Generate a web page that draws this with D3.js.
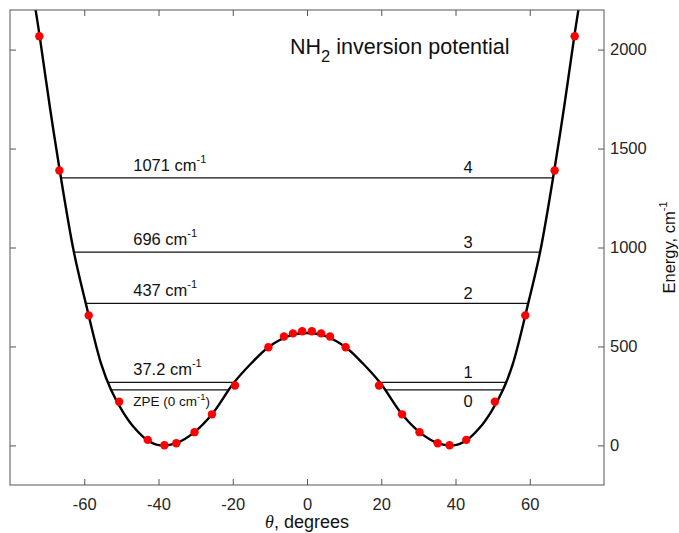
<!DOCTYPE html>
<html>
<head>
<meta charset="utf-8">
<script src="https://cdn.jsdelivr.net/npm/d3@7"></script>
<style>
  body { margin: 0; background: #fff; }
  svg { display: block; font-family: "Liberation Sans", Arial, Helvetica, sans-serif; }
</style>
</head>
<body>
<div id="chart"></div>
<script>
// axis ticks
const thetaTicks = [-60, -40, -20, 0, 20, 40, 60];
const energyTicks = [0, 500, 1000, 1500, 2000];

// ab initio points (red dots), theta in degrees, energy in cm-1
const pointTheta = [-72.1, -66.7, -58.8, -50.6, -42.9, -38.4, -35.2, -30.3, -25.6, -19.4, -10.4, -6.2, -3.8, -1.3,
  1.3, 3.8, 6.2, 10.4, 19.4, 25.6, 30.3, 35.2, 38.4, 42.9, 50.6, 58.8, 66.7, 72.1];
const pointEnergy = [2067, 1389, 657, 221, 28, 1, 11, 67, 157, 303, 496, 550, 566, 577,
  577, 566, 550, 496, 303, 157, 67, 11, 1, 28, 221, 657, 1389, 2067];

// fitted potential curve
const curveTheta = [-73.6, -72, -69.3, -66.6, -62.8, -59.6, -55.4, -52.8, -49.6, -46.5, -42.9, -39.5, -35.2, -30.3, -25.6, -19.8, -15, -10.4, -5, 0,
  5, 10.4, 15, 19.8, 25.6, 30.3, 35.2, 39.5, 42.9, 46.5, 49.6, 52.8, 55.4, 59.6, 62.8, 66.6, 69.3, 72, 73.6];
const curveEnergy = [2260, 2067, 1715, 1389, 978, 719, 409, 281, 170, 89, 25, 0, 11, 67, 157, 314, 415, 496, 552, 568,
  552, 496, 415, 314, 157, 67, 11, 0, 25, 89, 170, 281, 409, 719, 978, 1389, 1715, 2067, 2260];

// vibrational levels
const levelNames = ['0', '1', '2', '3', '4'];
const levelRel = [0, 37.2, 437, 696, 1071];     // cm-1 above ZPE
const zpe = 281;                                // absolute ZPE on the energy axis
const levelOuter = [52.8, 53.6, 59.8, 62.6, 66.2]; // |theta| where level meets outer wall
const levelInner = [21.0, 19.8, null, null, null]; // |theta| where level meets barrier

const W = 679, H = 533;
const margin = {top: 10, right: 75, bottom: 48, left: 10};
const fontSize = 16.5;

const svg = d3.select('#chart').append('svg')
  .attr('width', W)
  .attr('height', H);

const x = d3.scaleLinear().domain([-80, 80]).range([margin.left, W - margin.right]);
const y = d3.scaleLinear().domain([-200, 2200]).range([H - margin.bottom, margin.top]);

svg.append('defs').append('clipPath').attr('id', 'plot-clip')
  .append('rect')
  .attr('x', margin.left).attr('y', margin.top)
  .attr('width', W - margin.left - margin.right)
  .attr('height', H - margin.top - margin.bottom);

// level lines
levelRel.forEach((rel, i) => {
  const e = zpe + rel;
  const segs = levelInner[i] == null
    ? [[-levelOuter[i], levelOuter[i]]]
    : [[-levelOuter[i], -levelInner[i]], [levelInner[i], levelOuter[i]]];
  segs.forEach(s => {
    svg.append('line')
      .attr('x1', x(s[0])).attr('x2', x(s[1]))
      .attr('y1', y(e)).attr('y2', y(e))
      .attr('stroke', '#111')
      .attr('stroke-width', 1.2);
  });

  // number on the right
  svg.append('text')
    .attr('x', x(43.4))
    .attr('y', i === 0 ? y(e) + 17.5 : y(e) - 4.5)
    .attr('text-anchor', 'middle')
    .attr('font-size', fontSize)
    .attr('fill', '#111')
    .text(levelNames[i]);

  // energy label on the left
  const t = svg.append('text')
    .attr('x', x(-46.8))
    .attr('fill', '#111');
  if (i === 0) {
    t.attr('y', y(e) + 16.5).attr('font-size', 13.5);
    t.append('tspan').text('ZPE (0 cm');
    t.append('tspan').attr('dy', -6).attr('font-size', 9.5).text('-1');
    t.append('tspan').attr('dy', 6).text(')');
  } else {
    t.attr('y', y(e) - 7).attr('font-size', fontSize);
    t.append('tspan').text(rel + ' cm');
    t.append('tspan').attr('dy', -8).attr('font-size', 11).text('-1');
  }
});

// potential curve
const line = d3.line()
  .x((d, i) => x(curveTheta[i]))
  .y((d, i) => y(curveEnergy[i]))
  .curve(d3.curveCatmullRom.alpha(0.5));

svg.append('path')
  .datum(curveTheta)
  .attr('clip-path', 'url(#plot-clip)')
  .attr('d', line)
  .attr('fill', 'none')
  .attr('stroke', '#000')
  .attr('stroke-width', 2.4);

// points
svg.append('g')
  .selectAll('circle')
  .data(pointTheta)
  .enter()
  .append('circle')
  .attr('cx', d => x(d))
  .attr('cy', (d, i) => y(pointEnergy[i]))
  .attr('r', 4.2)
  .attr('fill', '#ff0000');

// axes: ticks inside the box
const axisColor = '#555';
const tickLen = 6;
const plain = d => String(d);

const xAxis = svg.append('g')
  .attr('transform', 'translate(0,' + (H - margin.bottom) + ')')
  .call(d3.axisBottom(x).tickValues(thetaTicks).tickSize(-tickLen).tickPadding(13).tickFormat(plain));
const xTop = svg.append('g')
  .attr('transform', 'translate(0,' + margin.top + ')')
  .call(d3.axisTop(x).tickValues(thetaTicks).tickSize(-tickLen).tickFormat(''));
const yAxis = svg.append('g')
  .attr('transform', 'translate(' + (W - margin.right) + ',0)')
  .call(d3.axisRight(y).tickValues(energyTicks).tickSize(-tickLen).tickPadding(6).tickFormat(plain));
const yLeft = svg.append('g')
  .attr('transform', 'translate(' + margin.left + ',0)')
  .call(d3.axisLeft(y).tickValues(energyTicks).tickSize(-tickLen).tickFormat(''));

[xAxis, xTop, yAxis, yLeft].forEach(g => {
  g.select('.domain').remove();
  g.selectAll('.tick line').attr('stroke', axisColor);
  g.selectAll('.tick text')
    .attr('font-size', fontSize)
    .attr('font-family', '"Liberation Sans", Arial, sans-serif')
    .attr('fill', '#262626');
});
xAxis.selectAll('.tick text').attr('dy', '0.71em');

// box
svg.append('rect')
  .attr('x', margin.left).attr('y', margin.top)
  .attr('width', W - margin.left - margin.right)
  .attr('height', H - margin.top - margin.bottom)
  .attr('fill', 'none')
  .attr('stroke', axisColor)
  .attr('stroke-width', 1);

// title
const title = svg.append('text')
  .attr('x', 290)
  .attr('y', 54)
  .attr('font-size', 21.5)
  .attr('fill', '#111');
title.append('tspan').text('NH');
title.append('tspan').attr('dy', 8).attr('font-size', 16.5).text('2');
title.append('tspan').attr('dy', -8).text(' inversion potential');

// axis labels
const xLabel = svg.append('text')
  .attr('x', x(0))
  .attr('y', 528)
  .attr('text-anchor', 'middle')
  .attr('font-size', 18)
  .attr('fill', '#111');
xLabel.append('tspan')
  .attr('font-family', '"Liberation Serif", "DejaVu Serif", serif')
  .attr('font-style', 'italic')
  .text('θ');
xLabel.append('tspan').text(', degrees');

const yLabel = svg.append('text')
  .attr('transform', 'translate(675,' + y(1000) + ') rotate(-90)')
  .attr('text-anchor', 'middle')
  .attr('font-size', fontSize)
  .attr('fill', '#111');
yLabel.append('tspan').text('Energy, cm');
yLabel.append('tspan').attr('dy', -8).attr('font-size', 11).text('-1');
</script>
</body>
</html>
